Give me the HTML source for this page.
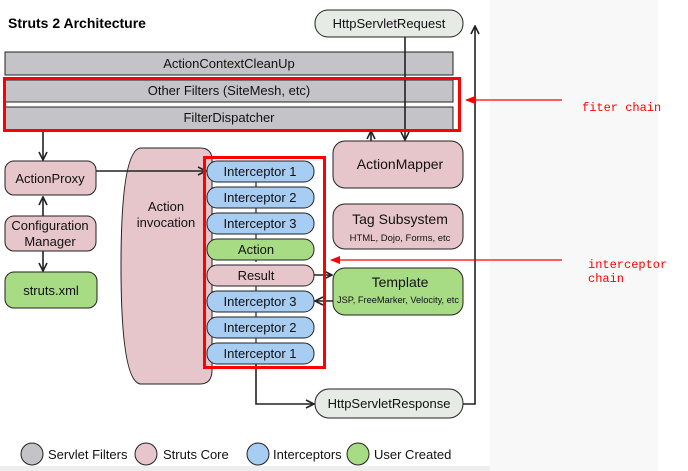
<!DOCTYPE html>
<html><head><style>
body{margin:0;width:688px;height:471px;background:#fff;position:relative;overflow:hidden;font-family:"Liberation Sans",sans-serif}
</style></head><body>
<svg width="688" height="471" xmlns="http://www.w3.org/2000/svg" style="position:absolute;left:0;top:0" font-family="Liberation Sans, sans-serif">
<defs>
<marker id="a" markerWidth="10" markerHeight="10" refX="9" refY="5" orient="auto" markerUnits="userSpaceOnUse"><path d="M1,1 L9,5 L1,9" fill="none" stroke="#222" stroke-width="1.6"/></marker>
<marker id="r" markerWidth="10" markerHeight="10" refX="9" refY="5" orient="auto" markerUnits="userSpaceOnUse"><path d="M0,1 L10,5 L0,9 z" fill="#f00"/></marker>
</defs>
<rect x="490" y="0" width="168" height="471" fill="#f8f8f8"/>
<rect x="0" y="466" width="490" height="5" fill="#eee"/>
<text x="8" y="28" font-size="14" font-weight="bold" fill="#000">Struts 2 Architecture</text>
<g stroke="#222" stroke-width="1">
<rect x="315" y="10" width="148" height="27" rx="13" fill="#e6ebe6"/>
<rect x="5" y="52" width="448" height="23" fill="#c4c4c8"/>
<rect x="5" y="80" width="448" height="22" fill="#c4c4c8"/>
<rect x="5" y="107" width="448" height="23" fill="#c4c4c8"/>
<rect x="333" y="141" width="130" height="47" rx="12" fill="#e6c6ca"/>
<rect x="333" y="204" width="130" height="45" rx="12" fill="#e6c6ca"/>
<rect x="333" y="268" width="130" height="47" rx="12" fill="#a8dc84"/>
<rect x="5" y="161" width="91" height="34" rx="9" fill="#e6c6ca"/>
<rect x="5" y="216" width="91" height="35" rx="9" fill="#e6c6ca"/>
<rect x="5" y="272" width="92" height="36" rx="9" fill="#a8dc84"/>
<path d="M140,148 L200,148 Q212,148 212,160 L212,370 Q212,384 200,384 L140,384 Q121,380 121,266 Q121,152 140,148 Z" fill="#e6c6ca"/>
<rect x="315" y="389" width="148" height="29" rx="14" fill="#e6ebe6"/>
</g>
<g stroke="#222" stroke-width="1.6" fill="none">
<line x1="405" y1="37" x2="405" y2="140" marker-end="url(#a)"/>
<line x1="371" y1="141" x2="371" y2="131" marker-end="url(#a)"/>
<line x1="43" y1="131" x2="43" y2="160" marker-end="url(#a)"/>
<line x1="43" y1="216" x2="43" y2="197" marker-end="url(#a)"/>
<line x1="43" y1="251" x2="43" y2="271" marker-end="url(#a)"/>
<line x1="96" y1="171" x2="206" y2="171" marker-end="url(#a)"/>
<line x1="256" y1="182" x2="256" y2="262" stroke-width="1.2"/>
<line x1="256" y1="286" x2="256" y2="343" stroke-width="1.2"/>
<polyline points="256,364 256,404 314,404" marker-end="url(#a)"/>
<polyline points="463,404 475,404 475,26" marker-end="url(#a)"/>
<line x1="314" y1="275" x2="332" y2="275" marker-end="url(#a)"/>
<line x1="333" y1="301" x2="315" y2="301" marker-end="url(#a)"/>
</g>
<g stroke="#222" stroke-width="1">
<rect x="207" y="161" width="107" height="21" rx="10" fill="#a8cdf2"/>
<rect x="207" y="187" width="107" height="21" rx="10" fill="#a8cdf2"/>
<rect x="207" y="213" width="107" height="21" rx="10" fill="#a8cdf2"/>
<rect x="207" y="239" width="107" height="21" rx="10" fill="#a8dc84"/>
<rect x="207" y="265" width="107" height="21" rx="10" fill="#e6c6ca"/>
<rect x="207" y="291" width="107" height="21" rx="10" fill="#a8cdf2"/>
<rect x="207" y="317" width="107" height="21" rx="10" fill="#a8cdf2"/>
<rect x="207" y="343" width="107" height="21" rx="10" fill="#a8cdf2"/>
</g>
<g font-size="13" fill="#111" text-anchor="middle">
<text x="389" y="28">HttpServletRequest</text>
<text x="229" y="68">ActionContextCleanUp</text>
<text x="229" y="95">Other Filters (SiteMesh, etc)</text>
<text x="229" y="122">FilterDispatcher</text>
<text x="400" y="169" font-size="14">ActionMapper</text>
<text x="400" y="224" font-size="14">Tag Subsystem</text>
<text x="400" y="241" font-size="9.5">HTML, Dojo, Forms, etc</text>
<text x="400" y="287" font-size="14">Template</text>
<text x="398" y="303" font-size="9" textLength="122" lengthAdjust="spacingAndGlyphs">JSP, FreeMarker, Velocity, etc</text>
<text x="50" y="183">ActionProxy</text>
<text x="50" y="230">Configuration</text>
<text x="50" y="246">Manager</text>
<text x="51" y="295">struts.xml</text>
<text x="166" y="211">Action</text>
<text x="166" y="227">invocation</text>
<text x="260" y="176">Interceptor 1</text>
<text x="260" y="202">Interceptor 2</text>
<text x="260" y="228">Interceptor 3</text>
<text x="256" y="254">Action</text>
<text x="256" y="280">Result</text>
<text x="260" y="306">Interceptor 3</text>
<text x="260" y="332">Interceptor 2</text>
<text x="260" y="358">Interceptor 1</text>
<text x="389" y="408">HttpServletResponse</text>
</g>
<g stroke="#222" stroke-width="1">
<circle cx="32" cy="454" r="11" fill="#c4c4c8"/>
<circle cx="146" cy="454" r="11" fill="#e6c6ca"/>
<circle cx="258" cy="454" r="11" fill="#a8cdf2"/>
<circle cx="358" cy="454" r="11" fill="#a8dc84"/>
</g>
<g font-size="13" fill="#111">
<text x="48" y="459">Servlet Filters</text>
<text x="163" y="459">Struts Core</text>
<text x="273" y="459">Interceptors</text>
<text x="374" y="459">User Created</text>
</g>
<g stroke="#f00" fill="none">
<rect x="4.5" y="78.5" width="455" height="52" stroke-width="3"/>
<rect x="204.5" y="157.5" width="120" height="210" stroke-width="3"/>
<line x1="562" y1="100" x2="466" y2="100" stroke-width="1.2" marker-end="url(#r)"/>
<line x1="562" y1="260" x2="331" y2="260" stroke-width="1.2" marker-end="url(#r)"/>
</g>
<g font-family="Liberation Mono, monospace" font-size="12" fill="#f00">
<text x="582" y="111">fiter chain</text>
<text x="588" y="268">interceptor</text>
<text x="588" y="282">chain</text>
</g>
</svg>
</body></html>
